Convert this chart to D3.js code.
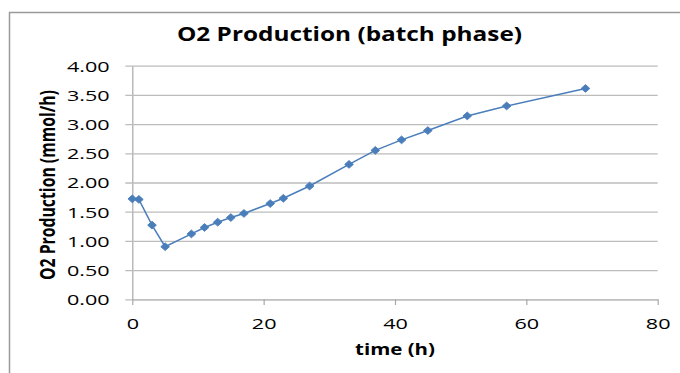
<!DOCTYPE html>
<html>
<head>
<meta charset="utf-8">
<script src="https://cdn.jsdelivr.net/npm/d3@7"></script>
<style>
  html, body { margin: 0; padding: 0; background: #fff; overflow: hidden; }
  svg { display: block; }
</style>
</head>
<body>
<svg id="chart" width="680" height="373"></svg>
<script>
// Sampling times (h) and measured O2 production (mmol/h)
const timeHours = [0, 1, 3, 5, 9, 11, 13, 15, 17, 21, 23, 27, 33, 37, 41, 45, 51, 57, 69];
const o2Production = [1.72, 1.71, 1.27, 0.90, 1.12, 1.23, 1.32, 1.40, 1.47, 1.64, 1.73, 1.94, 2.31, 2.55, 2.73, 2.89, 3.14, 3.31, 3.61];
const xTicks = [0, 20, 40, 60, 80];
const yTicks = [0, 0.5, 1, 1.5, 2, 2.5, 3, 3.5, 4];
const chartTitle = "O2 Production (batch phase)";
const xTitle = "time (h)";
const yTitle = "O2 Production (mmol/h)";

const FONT = "'Open Sans', 'DejaVu Sans', sans-serif";
const svg = d3.select("#chart");
const plot = { left: 132.3, right: 657.7, top: 65.7, bottom: 299.3 };
const plotW = plot.right - plot.left;

const x = d3.scaleLinear().domain([0, 80]).range([plot.left, plot.right]);
const y = d3.scaleLinear().domain([0, 4]).range([plot.bottom, plot.top]);

// white background and the outer chart frame
svg.append("rect").attr("width", 680).attr("height", 373).attr("fill", "#fff");
svg.append("rect")
  .attr("x", 9.5).attr("y", 12.5).attr("width", 760).attr("height", 420)
  .attr("fill", "none").attr("stroke", "#9a9a9a").attr("stroke-width", 1.5);

// horizontal scale factor that makes a text node span the given length
function fitScale(node, target) {
  const w = node.getComputedTextLength();
  return w > 0 ? target / w : 1;
}

// title
const title = svg.append("text")
  .attr("text-anchor", "middle")
  .attr("font-family", FONT).attr("font-weight", 700).attr("font-size", 18.8)
  .attr("fill", "#000")
  .text(chartTitle);
const titleSx = fitScale(title.node(), 345);
title.attr("transform", `translate(349.5,41) scale(${titleSx},1)`);

// y axis with gridlines
const yAxis = svg.append("g")
  .attr("transform", `translate(${plot.left},0)`)
  .call(d3.axisLeft(y).tickValues(yTicks).tickFormat(d3.format(".2f")).tickSize(7).tickSizeOuter(0));
yAxis.select(".domain").attr("stroke", "#a8a8a8").attr("stroke-width", 1.2);
yAxis.selectAll(".tick line")
  .attr("x1", -7).attr("x2", plotW)
  .attr("stroke", "#bcbcbc").attr("stroke-width", 1.3);
yAxis.selectAll(".tick text")
  .attr("font-family", FONT).attr("font-size", 15).attr("fill", "#000")
  .attr("x", 0).attr("dy", null).attr("y", 0)
  .attr("text-anchor", "end");
const tickSx = fitScale(yAxis.select(".tick:last-of-type text").node(), 42.7);
yAxis.selectAll(".tick text").attr("transform", `translate(-22.7,5.3) scale(${tickSx},1)`);

// x axis
const xAxis = svg.append("g")
  .attr("transform", `translate(0,${plot.bottom})`)
  .call(d3.axisBottom(x).tickValues(xTicks).tickSize(5.7).tickSizeOuter(0));
xAxis.select(".domain").attr("stroke", "#bcbcbc").attr("stroke-width", 1.3);
xAxis.selectAll(".tick line").attr("stroke", "#a8a8a8").attr("stroke-width", 1.2);
xAxis.selectAll(".tick text")
  .attr("font-family", FONT).attr("font-size", 15).attr("fill", "#000")
  .attr("dy", null).attr("y", 29.7)
  .attr("transform", `scale(${tickSx},1)`);

// axis titles
const xLabel = svg.append("text")
  .attr("text-anchor", "middle")
  .attr("font-family", FONT).attr("font-weight", 700).attr("font-size", 16)
  .attr("fill", "#000")
  .text(xTitle);
const xLabelSx = fitScale(xLabel.node(), 80);
xLabel.attr("transform", `translate(395,354.5) scale(${xLabelSx},1)`);

const yLabel = svg.append("text")
  .attr("text-anchor", "middle")
  .attr("font-family", FONT).attr("font-weight", 700).attr("font-size", 14)
  .attr("fill", "#000")
  .attr("dy", "0.3em")
  .text(yTitle);
const yLen = yLabel.node().getComputedTextLength();
yLabel.attr("font-size", 14 * 190 / yLen)
  .attr("transform", `translate(49.3,185) rotate(-90) scale(1,${titleSx})`);

// series line and diamond markers
const points = timeHours.map((t, i) => ({ t, v: o2Production[i] }));
const line = d3.line().x(d => x(d.t)).y(d => y(d.v));
svg.append("path")
  .datum(points)
  .attr("d", line)
  .attr("fill", "none")
  .attr("stroke", "#4a7ebb")
  .attr("stroke-width", 1.5);

svg.append("g").selectAll("path")
  .data(points)
  .join("path")
  .attr("d", d3.symbol(d3.symbolSquare, 30))
  .attr("transform", d => `translate(${x(d.t)},${y(d.v)}) scale(1.12,1) rotate(45)`)
  .attr("fill", "#4a7ebb")
  .attr("stroke", "#4a7ebb")
  .attr("stroke-width", 0.8);
</script>
</body>
</html>
